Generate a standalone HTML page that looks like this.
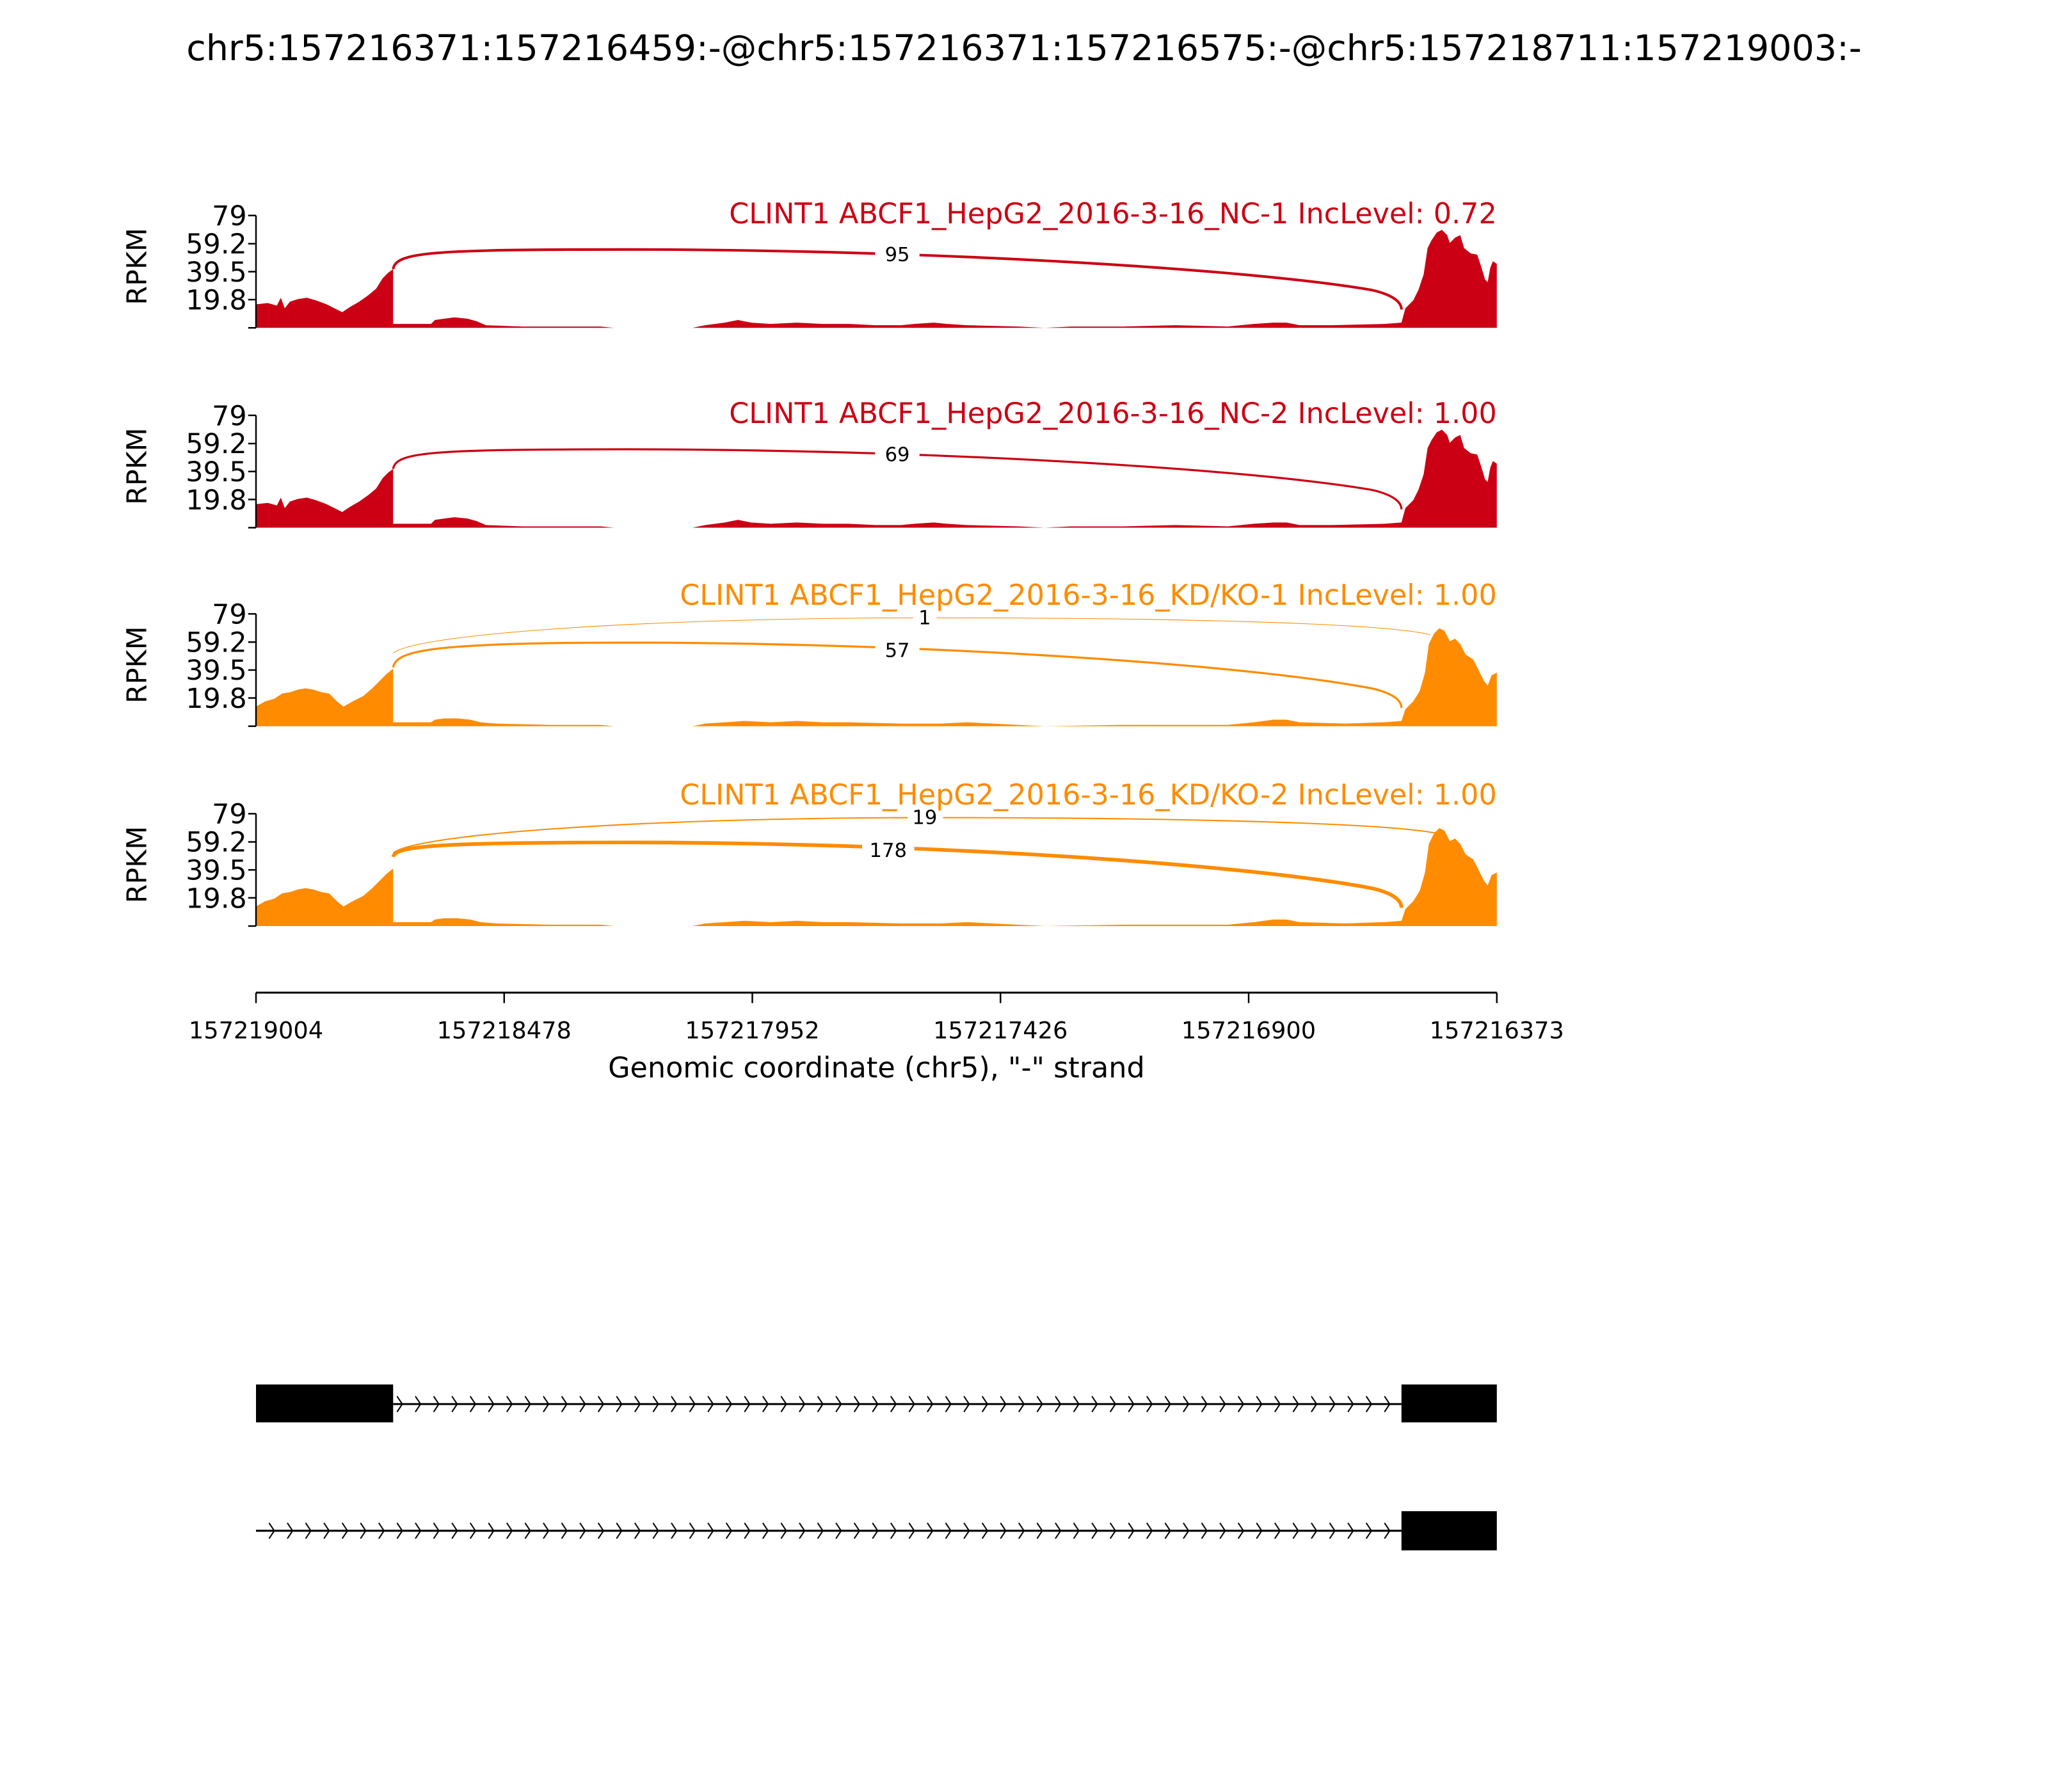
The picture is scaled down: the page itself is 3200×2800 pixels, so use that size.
<!DOCTYPE html>
<html><head><meta charset="utf-8"><style>html,body{margin:0;padding:0;background:#fff}svg{display:block}</style></head>
<body>
<svg width="3200" height="2800" viewBox="0 0 1568 1372" preserveAspectRatio="none" xmlns="http://www.w3.org/2000/svg" font-family="'DejaVu Sans','Liberation Sans',sans-serif">
<defs>
<path id="covA" d="M196,251 L196,233 L205,232 L212,234 L215,228 L218,236 L222,231 L228,229 L235,228 L242,230 L250,233 L256,236 L262,239 L268,235 L275,231 L282,226 L288,221 L293,213 L297,209 L301,206 L301,248 L330,248 L333,245 L340,244 L348,243 L358,244 L365,246 L372,249 L400,250 L460,250 L470,251 L530,251 L540,249 L555,247 L565,245 L575,247 L590,248 L610,247 L630,248 L650,248 L670,249 L690,249 L700,248 L715,247 L725,248 L740,249 L780,250 L800,251 L820,250 L860,250 L900,249 L940,250 L960,248 L975,247 L985,247 L995,249 L1020,249 L1060,248 L1073,247 L1076,236 L1082,230 L1086,222 L1090,210 L1093,190 L1096,184 L1100,178 L1104,176 L1108,180 L1110,186 L1114,182 L1118,180 L1121,190 L1126,194 L1131,195 L1134,204 L1137,214 L1139,216 L1141,205 L1143,200 L1146,202 L1146,251 Z"/>
<path id="covB" d="M196,251 L196,236 L203,232 L210,230 L216,226 L222,225 L228,223 L234,222 L240,223 L246,225 L252,226 L258,232 L263,236 L270,232 L278,228 L285,222 L291,216 L296,211 L301,207 L301,248 L330,248 L333,246 L340,245 L350,245 L360,246 L368,248 L380,249 L420,250 L460,250 L470,251 L530,251 L540,249 L555,248 L570,247 L590,248 L610,247 L630,248 L650,248 L690,249 L720,249 L740,248 L760,249 L800,251 L860,250 L940,250 L960,248 L975,246 L985,246 L995,248 L1030,249 L1060,248 L1073,247 L1076,238 L1082,232 L1087,224 L1091,210 L1094,188 L1098,180 L1102,176 L1106,178 L1110,186 L1114,184 L1118,188 L1122,196 L1128,200 L1132,208 L1136,216 L1139,220 L1142,212 L1146,210 L1146,251 Z"/>
<g id="axes">
<line x1="196" y1="165" x2="196" y2="251" stroke="#000" stroke-width="1.2"/>
<g stroke="#000" stroke-width="1.2">
<line x1="190" y1="165" x2="196" y2="165"/><line x1="190" y1="186.6" x2="196" y2="186.6"/><line x1="190" y1="208" x2="196" y2="208"/><line x1="190" y1="229.4" x2="196" y2="229.4"/><line x1="190" y1="251" x2="196" y2="251"/>
</g>
<g font-size="21" text-anchor="end" fill="#000">
<text x="189" y="172.5">79</text><text x="189" y="194">59.2</text><text x="189" y="215.5">39.5</text><text x="189" y="237">19.8</text>
</g>
<text transform="translate(112,204) rotate(-90)" font-size="21" text-anchor="middle">RPKM</text>
</g>
</defs>

<text x="784" y="46" font-size="27.2" text-anchor="middle">chr5:157216371:157216459:-@chr5:157216371:157216575:-@chr5:157218711:157219003:-</text>

<!-- Panel 1 -->
<g>
<use href="#covA" fill="#cc0014"/>
<use href="#axes"/>
<path d="M301,206 C303,193 330,191 480,191 C700,191 950,205 1050,222 C1068,226 1073,232 1073,237" fill="none" stroke="#cc0014" stroke-width="2"/>
<rect x="670" y="185" width="34" height="20" fill="#fff"/>
<text x="687" y="200" font-size="15" text-anchor="middle">95</text>
<text x="1146" y="171" font-size="21.8" text-anchor="end" fill="#cc0014">CLINT1 ABCF1_HepG2_2016-3-16_NC-1 IncLevel: 0.72</text>
</g>
<!-- Panel 2 -->
<g transform="translate(0,153)">
<use href="#covA" fill="#cc0014"/>
<use href="#axes"/>
<path d="M301,206 C303,193 330,191 480,191 C700,191 950,205 1050,222 C1068,226 1073,232 1073,237" fill="none" stroke="#cc0014" stroke-width="1.6"/>
<rect x="670" y="185" width="34" height="20" fill="#fff"/>
<text x="687" y="200" font-size="15" text-anchor="middle">69</text>
<text x="1146" y="171" font-size="21.8" text-anchor="end" fill="#cc0014">CLINT1 ABCF1_HepG2_2016-3-16_NC-2 IncLevel: 1.00</text>
</g>
<!-- Panel 3 -->
<g transform="translate(0,305)">
<use href="#covB" fill="#ff8c00"/>
<use href="#axes"/>
<path d="M301,195 C320,180 500,168 710,168 C900,168 1060,172 1095,181" fill="none" stroke="#ff8c00" stroke-width="0.5"/>
<rect x="699" y="159" width="18" height="17" fill="#fff"/>
<text x="708" y="173" font-size="15" text-anchor="middle">1</text>
<path d="M301,206 C303,193 330,187 480,187 C700,187 950,203 1050,222 C1068,226 1073,232 1073,237" fill="none" stroke="#ff8c00" stroke-width="1.6"/>
<rect x="670" y="184" width="34" height="20" fill="#fff"/>
<text x="687" y="198" font-size="15" text-anchor="middle">57</text>
<text x="1146" y="158" font-size="21.8" text-anchor="end" fill="#ff8c00">CLINT1 ABCF1_HepG2_2016-3-16_KD/KO-1 IncLevel: 1.00</text>
</g>
<!-- Panel 4 -->
<g transform="translate(0,458)">
<use href="#covB" fill="#ff8c00"/>
<use href="#axes"/>
<path d="M301,195 C320,180 500,168 710,168 C900,168 1060,172 1100,180" fill="none" stroke="#ff8c00" stroke-width="1"/>
<rect x="695" y="159" width="27" height="17" fill="#fff"/>
<text x="708" y="173" font-size="15" text-anchor="middle">19</text>
<path d="M301,198 C303,190 330,187 480,187 C700,187 950,203 1050,222 C1068,226 1073,232 1073,237" fill="none" stroke="#ff8c00" stroke-width="2.8"/>
<rect x="660" y="184" width="40" height="19" fill="#fff"/>
<text x="680" y="198" font-size="15" text-anchor="middle">178</text>
<text x="1146" y="158" font-size="21.8" text-anchor="end" fill="#ff8c00">CLINT1 ABCF1_HepG2_2016-3-16_KD/KO-2 IncLevel: 1.00</text>
</g>

<!-- X axis -->
<line x1="196" y1="760" x2="1146" y2="760" stroke="#000" stroke-width="1.5"/>
<g stroke="#000" stroke-width="1.2">
<line x1="196" y1="760" x2="196" y2="768"/><line x1="386" y1="760" x2="386" y2="768"/><line x1="576" y1="760" x2="576" y2="768"/><line x1="766" y1="760" x2="766" y2="768"/><line x1="956" y1="760" x2="956" y2="768"/><line x1="1146" y1="760" x2="1146" y2="768"/>
</g>
<g font-size="18" text-anchor="middle">
<text x="196" y="795">157219004</text><text x="386" y="795">157218478</text><text x="576" y="795">157217952</text><text x="766" y="795">157217426</text><text x="956" y="795">157216900</text><text x="1146" y="795">157216373</text>
</g>
<text x="671" y="825" font-size="21.8" text-anchor="middle">Genomic coordinate (chr5), "-" strand</text>

<!-- Gene models -->
<rect x="196" y="1060" width="105" height="29" fill="#000"/>
<line x1="301" y1="1075" x2="1073" y2="1075" stroke="#000" stroke-width="1.5"/>
<rect x="1073" y="1060" width="73" height="29" fill="#000"/>
<g fill="none" stroke="#000" stroke-width="1" id="chev1">
<path d="M304,1069 l4,6 l-4,6 M318,1069 l4,6 l-4,6 M332,1069 l4,6 l-4,6 M346,1069 l4,6 l-4,6 M360,1069 l4,6 l-4,6 M374,1069 l4,6 l-4,6 M388,1069 l4,6 l-4,6 M402,1069 l4,6 l-4,6 M416,1069 l4,6 l-4,6 M430,1069 l4,6 l-4,6 M444,1069 l4,6 l-4,6 M458,1069 l4,6 l-4,6 M472,1069 l4,6 l-4,6 M486,1069 l4,6 l-4,6 M500,1069 l4,6 l-4,6 M514,1069 l4,6 l-4,6 M528,1069 l4,6 l-4,6 M542,1069 l4,6 l-4,6 M556,1069 l4,6 l-4,6 M570,1069 l4,6 l-4,6 M584,1069 l4,6 l-4,6 M598,1069 l4,6 l-4,6 M612,1069 l4,6 l-4,6 M626,1069 l4,6 l-4,6 M640,1069 l4,6 l-4,6 M654,1069 l4,6 l-4,6 M668,1069 l4,6 l-4,6 M682,1069 l4,6 l-4,6 M696,1069 l4,6 l-4,6 M710,1069 l4,6 l-4,6 M724,1069 l4,6 l-4,6 M738,1069 l4,6 l-4,6 M752,1069 l4,6 l-4,6 M766,1069 l4,6 l-4,6 M780,1069 l4,6 l-4,6 M794,1069 l4,6 l-4,6 M808,1069 l4,6 l-4,6 M822,1069 l4,6 l-4,6 M836,1069 l4,6 l-4,6 M850,1069 l4,6 l-4,6 M864,1069 l4,6 l-4,6 M878,1069 l4,6 l-4,6 M892,1069 l4,6 l-4,6 M906,1069 l4,6 l-4,6 M920,1069 l4,6 l-4,6 M934,1069 l4,6 l-4,6 M948,1069 l4,6 l-4,6 M962,1069 l4,6 l-4,6 M976,1069 l4,6 l-4,6 M990,1069 l4,6 l-4,6 M1004,1069 l4,6 l-4,6 M1018,1069 l4,6 l-4,6 M1032,1069 l4,6 l-4,6 M1046,1069 l4,6 l-4,6 M1060,1069 l4,6 l-4,6"/>
</g>
<line x1="196" y1="1172" x2="1073" y2="1172" stroke="#000" stroke-width="1.5"/>
<rect x="1073" y="1157" width="73" height="30" fill="#000"/>
<g fill="none" stroke="#000" stroke-width="1">
<path d="M206,1166 l4,6 l-4,6 M220,1166 l4,6 l-4,6 M234,1166 l4,6 l-4,6 M248,1166 l4,6 l-4,6 M262,1166 l4,6 l-4,6 M276,1166 l4,6 l-4,6 M290,1166 l4,6 l-4,6"/>
</g>
<use href="#chev1" transform="translate(0,97)"/>
</svg>
</body></html>
